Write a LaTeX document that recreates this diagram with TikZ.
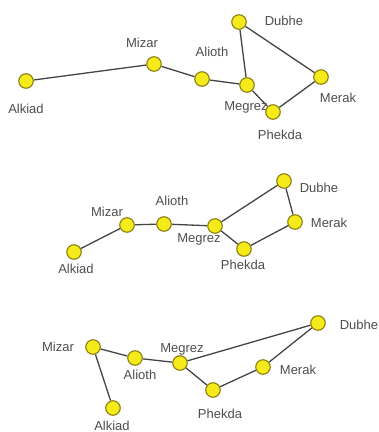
\documentclass[tikz,border=0pt]{standalone}
\usepackage{fontspec}
\setmainfont{Liberation Sans}
\usetikzlibrary{backgrounds}
\definecolor{starfill}{HTML}{F6EB1A}
\definecolor{starline}{HTML}{8C7F10}
\definecolor{linkcol}{HTML}{454545}
\definecolor{labcol}{HTML}{4E4E4E}
\begin{document}
\begin{tikzpicture}[x=1pt,y=-1pt,
  star/.style={circle,fill=starfill,draw=starline,line width=1.1pt,minimum size=14.5pt,inner sep=0pt},
  lab/.style={text=labcol,font=\fontsize{13}{15}\selectfont,inner sep=0pt},
  link/.style={draw=linkcol,line width=1.3pt}]
\useasboundingbox (0,0) rectangle (379,432);

% ---------- first arrangement ----------
\node[lab] (l1dub) at (284,21) {Dubhe};
\node[lab] (l1miz) at (142,43) {Mizar};
\node[lab] (l1ali) at (212,52) {Alioth};
\node[lab] (l1meg) at (246,107) {Megrez};
\node[lab] (l1phe) at (280,135) {Phekda};
\node[lab] (l1mer) at (338,98) {Merak};
\node[lab] (l1alk) at (26,109) {Alkiad};

\node[star] (a1) at (26,81) {};
\node[star] (m1) at (154,64) {};
\node[star] (al1) at (202,79) {};
\node[star] (mg1) at (247,85) {};
\node[star] (d1) at (239,22) {};
\node[star] (k1) at (321,77) {};
\node[star] (p1) at (273,112) {};

% ---------- second arrangement ----------
\node[lab] (l2dub) at (319,188) {Dubhe};
\node[lab] (l2mer) at (329,223) {Merak};
\node[lab] (l2meg) at (199,239) {Megrez};
\node[lab] (l2phe) at (243,265) {Phekda};
\node[lab] (l2ali) at (172,201) {Alioth};
\node[lab] (l2miz) at (107,212) {Mizar};
\node[lab] (l2alk) at (76,269) {Alkiad};

\node[star] (a2) at (74,252) {};
\node[star] (m2) at (127,225) {};
\node[star] (al2) at (164,224) {};
\node[star] (mg2) at (215,226) {};
\node[star] (d2) at (284,181) {};
\node[star] (k2) at (295,222) {};
\node[star] (p2) at (244,249) {};

% ---------- third arrangement ----------
\node[lab] (l3dub) at (359,325) {Dubhe};
\node[lab] (l3mer) at (298,370) {Merak};
\node[lab] (l3phe) at (220,414) {Phekda};
\node[lab] (l3meg) at (182,349) {Megrez};
\node[lab] (l3ali) at (140,375) {Alioth};
\node[lab] (l3miz) at (58,347) {Mizar};
\node[lab] (l3alk) at (112,426) {Alkiad};

\node[star] (a3) at (113,408) {};
\node[star] (m3) at (93,347) {};
\node[star] (al3) at (135,358) {};
\node[star] (mg3) at (180,363) {};
\node[star] (d3) at (318,323) {};
\node[star] (k3) at (263,367) {};
\node[star] (p3) at (213,390) {};

% connecting lines behind the stars
\begin{scope}[on background layer]
  \fill[white] (0,0) rectangle (379,432);
  \foreach \i in {1,2,3} {
    \draw[link] (a\i) -- (m\i) -- (al\i) -- (mg\i) -- (d\i) -- (k\i) -- (p\i) -- (mg\i);
  }
\end{scope}
\end{tikzpicture}
\end{document}
